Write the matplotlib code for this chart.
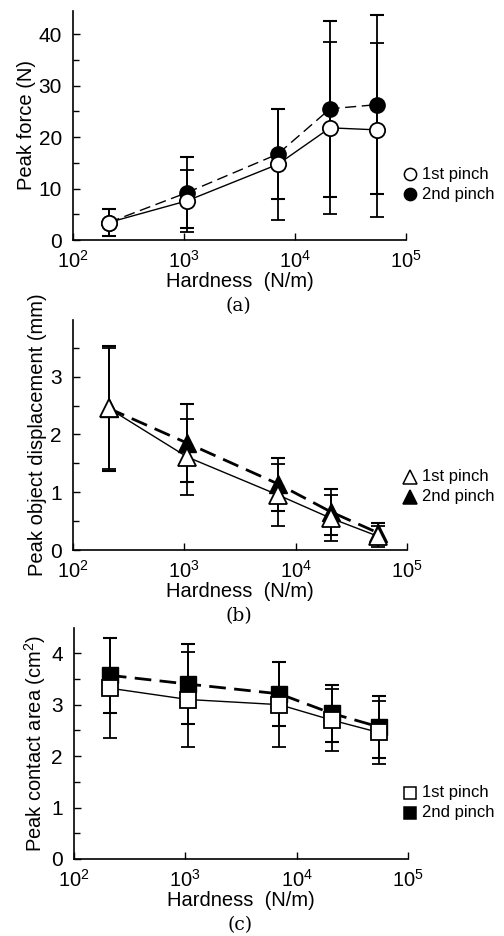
import matplotlib.pyplot as plt
from matplotlib.ticker import MultipleLocator, LogLocator, NullLocator

plt.rcParams["font.family"] = ["Liberation Sans", "DejaVu Sans"]
plt.rcParams["mathtext.fontset"] = "custom"
plt.rcParams["mathtext.rm"] = "Liberation Sans"

hardness = [210, 1060, 7000, 20700, 54500]

force_1st = [3.4, 7.6, 14.7, 21.8, 21.4]
force_1st_err = [2.6, 6.0, 10.8, 16.7, 16.9]
force_2nd = [3.4, 9.2, 16.7, 25.5, 26.3]
force_2nd_err = [2.6, 6.9, 8.8, 17.1, 17.4]

disp_1st = [2.45, 1.61, 0.95, 0.55, 0.24]
disp_1st_err = [1.05, 0.66, 0.54, 0.40, 0.18]
disp_2nd = [2.45, 1.85, 1.14, 0.66, 0.30]
disp_2nd_err = [1.08, 0.67, 0.46, 0.40, 0.16]

area_1st = [3.32, 3.10, 3.00, 2.70, 2.46]
area_1st_err = [0.97, 0.92, 0.83, 0.60, 0.61]
area_2nd = [3.57, 3.40, 3.21, 2.83, 2.57]
area_2nd_err = [0.73, 0.78, 0.62, 0.55, 0.60]

W, H = 504, 936
fig = plt.figure(figsize=(W / 100, H / 100), dpi=100)


def make_axes(left, top, right, bottom):
    return fig.add_axes([left / W, 1 - bottom / H, (right - left) / W, (bottom - top) / H])


panels = [
    dict(box=(73, 11, 406, 240), ylim=44.5, major=10, minor=5,
         first=(force_1st, force_1st_err), second=(force_2nd, force_2nd_err),
         m1="o", ms=11, dlw=1.0, dash=(0, (8, 4)),
         ylabel="Peak force (N)", tag="(a)", leg_y=(174, 194)),
    dict(box=(73, 320, 407, 550), ylim=3.98, major=1, minor=0.5,
         first=(disp_1st, disp_1st_err), second=(disp_2nd, disp_2nd_err),
         m1="^", ms=13, dlw=2.0, dash=(0, (6, 3)),
         ylabel="Peak object displacement (mm)", tag="(b)", leg_y=(477, 497)),
    dict(box=(74, 628, 408, 859), ylim=4.49, major=1, minor=0.5,
         first=(area_1st, area_1st_err), second=(area_2nd, area_2nd_err),
         m1="s", ms=11, dlw=2.0, dash=(0, (6, 3)),
         ylabel="Peak contact area (cm$^2$)", tag="(c)", leg_y=(793, 813)),
]

for p in panels:
    ax = make_axes(*p["box"])
    y2, e2 = p["second"]
    y1, e1 = p["first"]
    ax.errorbar(hardness, y2, yerr=e2, color="black", ecolor="black",
                linestyle=p["dash"], linewidth=p["dlw"], elinewidth=1.3,
                capsize=5, capthick=1.5, marker=p["m1"], markersize=p["ms"],
                markerfacecolor="black", markeredgecolor="black", zorder=2)
    ax.errorbar(hardness, y1, yerr=e1, color="black", ecolor="black",
                linestyle="-", linewidth=1.0, elinewidth=1.3,
                capsize=5, capthick=1.5, marker=p["m1"], markersize=p["ms"],
                markerfacecolor="white", markeredgecolor="black",
                markeredgewidth=1.3, zorder=3)

    ax.set_xscale("log")
    ax.set_xlim(1e2, 1e5)
    ax.set_ylim(0, p["ylim"])
    ax.xaxis.set_major_locator(LogLocator(base=10, numticks=10))
    ax.xaxis.set_minor_locator(NullLocator())
    ax.yaxis.set_major_locator(MultipleLocator(p["major"]))
    ax.yaxis.set_minor_locator(MultipleLocator(p["minor"]))
    ax.spines["top"].set_visible(False)
    ax.spines["right"].set_visible(False)
    ax.spines["left"].set_linewidth(1.2)
    ax.spines["bottom"].set_linewidth(1.2)
    ax.tick_params(which="both", direction="in", width=1.0)
    ax.tick_params(axis="x", pad=7, labelsize=14.5)
    ax.tick_params(axis="y", pad=8, labelsize=15)
    ax.tick_params(which="major", length=5)
    ax.tick_params(which="minor", length=4)
    ax.set_xlabel("Hardness  (N/m)", fontsize=14.5, labelpad=0)
    ax.set_ylabel(p["ylabel"], fontsize=14.5, labelpad=2)

    left, top, right, bottom = p["box"]
    fig.text(((left + right) / 2 - 1) / W, 1 - (bottom + 66) / H, p["tag"],
             family="DejaVu Serif", fontsize=13.5, ha="center", va="center")

    # legend drawn by hand to sit outside to the right like the original
    for ly, face, lab in [(p["leg_y"][0], "white", "1st pinch"),
                          (p["leg_y"][1], "black", "2nd pinch")]:
        fig.lines.append(plt.Line2D([410 / W], [1 - ly / H], transform=fig.transFigure,
                                    marker=p["m1"], markersize=p["ms"] * 0.8,
                                    markerfacecolor=face, markeredgecolor="black",
                                    markeredgewidth=1.1, linestyle="none"))
        fig.text(422 / W, 1 - ly / H, lab, fontsize=12, ha="left", va="center")

fig.savefig("out.png", dpi=100)
